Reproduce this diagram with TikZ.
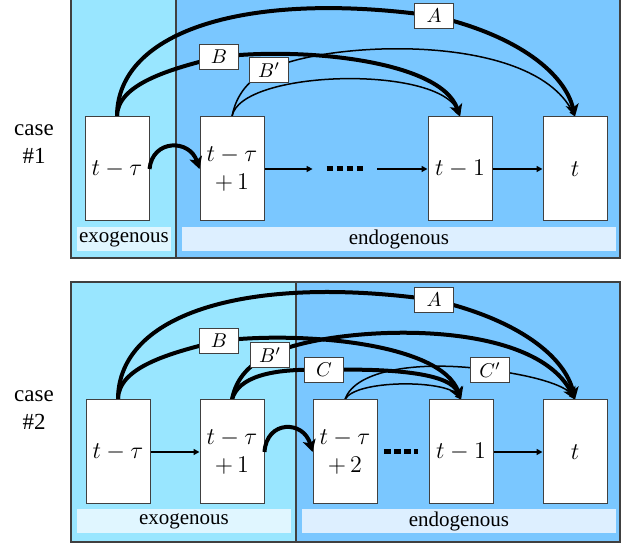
\documentclass[tikz,border=0pt]{standalone}
\usepackage{fontspec}
\setmainfont{Liberation Serif}
\usetikzlibrary{arrows.meta}
\usetikzlibrary{positioning}

\definecolor{exoblue}{RGB}{153,230,255}
\definecolor{endoblue}{RGB}{122,199,255}
\definecolor{exobar}{RGB}{224,246,255}
\definecolor{endobar}{RGB}{221,239,255}
\definecolor{rim}{RGB}{64,64,64}

\pgfdeclarelayer{back}
\pgfdeclarelayer{wires}
\pgfsetlayers{back,wires,main}

\tikzset{
  slot/.style={draw=rim, line width=0.5pt, fill=white, minimum width=32pt,
    minimum height=52pt, inner sep=0pt, align=center, font=\large},
  tag/.style={draw=rim, line width=0.5pt, fill=white, minimum width=19.5pt,
    minimum height=12.5pt, inner sep=0pt},
  band/.style={minimum height=12pt, inner sep=0pt, font=\fontsize{10.5}{12}\selectfont},
  heavy/.style={line width=2pt, -{Stealth[length=6pt,width=6.5pt,inset=1.5pt]}},
  light/.style={line width=0.75pt, -{Triangle[length=3pt,width=3pt]}},
  flow/.style={line width=0.8pt, -{Triangle[length=3pt,width=3pt]}},
  dotrow/.style={line width=2.5pt, dash pattern=on 3.4pt off 1.6pt},
  casename/.style={align=center, font=\fontsize{11.5}{14}\selectfont},
}

\begin{document}
\begin{tikzpicture}[x=0.5pt, y=-0.5pt]
\useasboundingbox (0,0) rectangle (628,544);

% ---- case 1 ----
\node[casename] (case1) at (34,144) {case\\\#1};
\node[slot] (lag1) at (117,169) {$t-\tau$};
\node[slot] (next1) at (232,169) {$t-\tau$\\$+\,1$};
\node[inner sep=0pt, minimum width=32pt, minimum height=6pt] (gap1) at (345,169) {};
\node[slot] (last1) at (460,169) {$t-1$};
\node[slot] (now1) at (575,169) {$t$};
\node[band, fill=exobar, minimum width=47pt] (exo1) at (124,239) {exogenous};
\node[band, fill=endobar, minimum width=217pt] (endo1) at (399,239) {endogenous};
\node[tag] (A1) at (434,16) {$A$};
\node[tag] (B1) at (219,57) {$B$};
\node[tag] (Bp1) at (269,70) {$B'$};

\begin{pgfonlayer}{back}
  \fill[white] (0,0) rectangle (628,544);
  \fill[exoblue] (71,-2) rectangle (176,258);
  \fill[endoblue] (176,-2) rectangle (620,258);
  \draw[rim, line width=0.6pt] (71,-2) rectangle (620,258);
  \draw[rim, line width=0.6pt] (176,-2) -- (176,258);
\end{pgfonlayer}

\begin{pgfonlayer}{wires}
  \draw[heavy] (lag1.north) .. controls +(0,-87) and +(-184,-26) .. (A1.center)
    .. controls +(86,20) and +(-10,-42) .. (now1.north);
  \draw[heavy] (lag1.north) .. controls +(0,-32) and +(-50,12) .. (B1.center)
    .. controls +(80,-10) and +(-20,-57) .. (last1.north);
  \draw[light] (next1.north) .. controls +(4,-22) and +(-19,8) .. (Bp1.center)
    .. controls +(51,-28) and +(-45,-87) .. (now1.north);
  \draw[light] (next1.north) .. controls +(8,-47) and +(-20,-52) .. (last1.north);
\end{pgfonlayer}

\draw[heavy] (lag1.east) .. controls +(3,-30) and +(-10,-30) .. (next1.west);
\draw[flow] (next1) -- (gap1);
\draw[dotrow] ([xshift=-9.2pt]gap1.center) -- ([xshift=9.2pt]gap1.center);
\draw[flow] (gap1) -- (last1);
\draw[flow] (last1) -- (now1);

% ---- case 2 ----
\node[casename] (case2) at (34,410) {case\\\#2};
\node[slot] (lag2) at (118,452) {$t-\tau$};
\node[slot] (next2) at (232,452) {$t-\tau$\\$+\,1$};
\node[slot] (step2) at (345,452) {$t-\tau$\\$+\,2$};
\node[inner sep=0pt, minimum width=17.5pt, minimum height=6pt] (gap2) at (401,452) {};
\node[slot] (last2) at (461,452) {$t-1$};
\node[slot] (now2) at (575,452) {$t$};
\node[band, fill=exobar, minimum width=107pt] (exo2) at (184,521) {exogenous};
\node[band, fill=endobar, minimum width=157pt] (endo2) at (459,521) {endogenous};
\node[tag] (A2) at (434,300) {$A$};
\node[tag] (B2) at (219,341) {$B$};
\node[tag] (Bp2) at (270,355) {$B'$};
\node[tag] (C2) at (324,370) {$C$};
\node[tag] (Cp2) at (490,370) {$C'$};

\begin{pgfonlayer}{back}
  \fill[exoblue] (71,282) rectangle (296,542);
  \fill[endoblue] (296,282) rectangle (620,542);
  \draw[rim, line width=0.6pt] (71,282) rectangle (620,542);
  \draw[rim, line width=0.6pt] (296,282) -- (296,542);
\end{pgfonlayer}

\begin{pgfonlayer}{wires}
  \draw[heavy] (lag2.north) .. controls +(0,-87) and +(-184,-26) .. (A2.center)
    .. controls +(86,20) and +(-10,-42) .. (now2.north);
  \draw[heavy] (lag2.north) .. controls +(0,-32) and +(-50,12) .. (B2.center)
    .. controls +(80,-10) and +(-20,-57) .. (last2.north);
  \draw[heavy] (next2.north) .. controls +(4,-22) and +(-19,8) .. (Bp2.center)
    .. controls +(51,-28) and +(-45,-87) .. (now2.north);
  \draw[heavy] (next2.north) .. controls +(6,-22) and +(-54,-2) .. (C2.center)
    .. controls +(76,-2) and +(-11,-25) .. (last2.north);
  \draw[light] (step2.north) .. controls +(10,-30) and +(-70,-10) .. (Cp2.center)
    .. controls +(40,5) and +(-10,-15) .. (now2.north);
  \draw[light] (step2.north) .. controls +(10,-20) and +(-15,-20) .. (last2.north);
\end{pgfonlayer}

\draw[flow] (lag2) -- (next2);
\draw[heavy] (next2.east) .. controls +(2,-32) and +(-9,-32) .. (step2.west);
\draw[dotrow] ([xshift=-8.6pt]gap2.center) -- ([xshift=8.6pt]gap2.center);
\draw[flow] (last2) -- (now2);
\end{tikzpicture}
\end{document}
